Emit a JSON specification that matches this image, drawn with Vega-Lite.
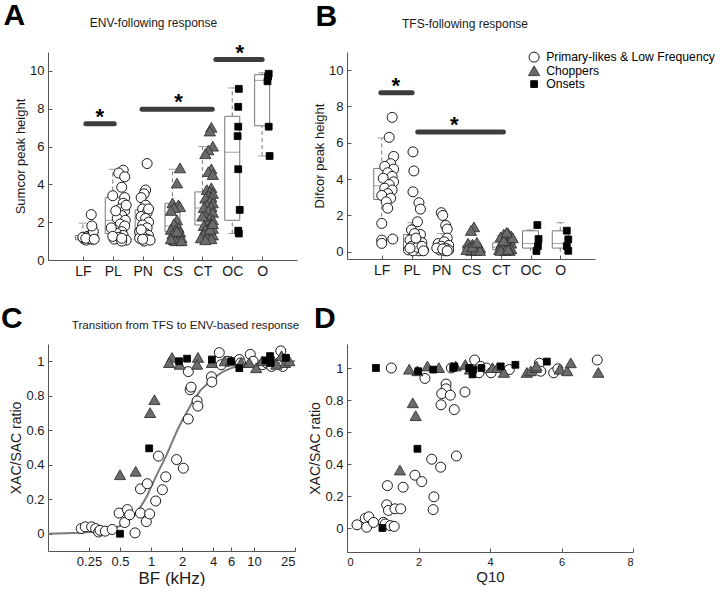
{
 "$schema": "https://vega.github.io/schema/vega-lite/v6.json",
 "padding": {"left": 0, "top": 0, "right": 0, "bottom": 0},
 "background": "white",
 "config": {
  "view": {"stroke": null},
  "font": "Liberation Sans",
  "axis": {"domainColor": "#555", "tickColor": "#555", "labelColor": "#1a1a1a", "titleColor": "#1a1a1a", "grid": false, "tickSize": -4, "labelFontSize": 13, "titleFontSize": 13, "titleFontWeight": "normal", "labelPadding": 8, "titlePadding": 2, "domainWidth": 1},
  "title": {"fontWeight": "normal", "fontSize": 12, "color": "#1a1a1a"},
  "point": {"size": 100}
 },
 "datasets": {
  "envPts": [
   {"x":1.05,"y":1.1,"t":"P"},{"x":1.12,"y":1.05,"t":"P"},{"x":1.2,"y":1.15,"t":"P"},{"x":1.3,"y":1.1,"t":"P"},{"x":1.35,"y":1.2,"t":"P"},{"x":1.25,"y":1.3,"t":"P"},{"x":1.15,"y":1.25,"t":"P"},{"x":1.0,"y":1.2,"t":"P"},{"x":1.3,"y":1.35,"t":"P"},{"x":1.35,"y":1.5,"t":"P"},{"x":1.3,"y":1.8,"t":"P"},{"x":1.28,"y":2.4,"t":"P"},{"x":1.1,"y":1.15,"t":"P"},{"x":1.38,"y":1.1,"t":"P"},
   {"x":2.35,"y":4.75,"t":"P"},{"x":2.2,"y":4.6,"t":"P"},{"x":2.4,"y":4.4,"t":"P"},{"x":2.3,"y":3.85,"t":"P"},{"x":2.0,"y":3.4,"t":"P"},{"x":2.4,"y":3.3,"t":"P"},{"x":2.35,"y":3.0,"t":"P"},{"x":2.25,"y":2.7,"t":"P"},{"x":2.4,"y":2.6,"t":"P"},{"x":2.3,"y":2.35,"t":"P"},{"x":2.15,"y":2.2,"t":"P"},{"x":2.42,"y":2.1,"t":"P"},{"x":2.25,"y":1.9,"t":"P"},{"x":2.4,"y":1.8,"t":"P"},{"x":2.05,"y":1.6,"t":"P"},{"x":2.3,"y":1.5,"t":"P"},{"x":2.15,"y":1.4,"t":"P"},{"x":2.35,"y":1.3,"t":"P"},{"x":2.2,"y":1.2,"t":"P"},{"x":2.05,"y":1.1,"t":"P"},{"x":2.45,"y":1.05,"t":"P"},{"x":2.3,"y":1.0,"t":"P"},{"x":1.95,"y":1.7,"t":"P"},{"x":2.1,"y":2.6,"t":"P"},{"x":2.45,"y":2.9,"t":"P"},{"x":2.0,"y":1.25,"t":"P"},{"x":2.3,"y":1.15,"t":"P"},
   {"x":3.15,"y":5.1,"t":"P"},{"x":3.1,"y":3.7,"t":"P"},{"x":3.05,"y":3.5,"t":"P"},{"x":2.95,"y":3.3,"t":"P"},{"x":3.1,"y":2.9,"t":"P"},{"x":3.0,"y":2.7,"t":"P"},{"x":3.15,"y":2.5,"t":"P"},{"x":2.95,"y":2.3,"t":"P"},{"x":3.1,"y":2.2,"t":"P"},{"x":3.2,"y":2.0,"t":"P"},{"x":3.0,"y":1.85,"t":"P"},{"x":3.15,"y":1.7,"t":"P"},{"x":2.9,"y":1.5,"t":"P"},{"x":3.1,"y":1.4,"t":"P"},{"x":3.2,"y":1.3,"t":"P"},{"x":3.0,"y":1.25,"t":"P"},{"x":2.9,"y":1.15,"t":"P"},{"x":3.15,"y":1.1,"t":"P"},{"x":3.05,"y":1.0,"t":"P"},{"x":3.25,"y":1.05,"t":"P"},{"x":2.95,"y":1.6,"t":"P"},{"x":3.2,"y":2.7,"t":"P"},{"x":3.0,"y":1.1,"t":"P"},
   {"x":4.25,"y":4.85,"t":"C"},{"x":4.15,"y":4.05,"t":"C"},{"x":4.0,"y":3.0,"t":"C"},{"x":4.2,"y":2.9,"t":"C"},{"x":4.25,"y":2.8,"t":"C"},{"x":4.05,"y":2.75,"t":"C"},{"x":3.95,"y":2.6,"t":"C"},{"x":4.15,"y":2.1,"t":"C"},{"x":4.05,"y":1.9,"t":"C"},{"x":4.2,"y":1.7,"t":"C"},{"x":3.95,"y":1.6,"t":"C"},{"x":4.1,"y":1.55,"t":"C"},{"x":4.25,"y":1.45,"t":"C"},{"x":4.0,"y":1.35,"t":"C"},{"x":4.15,"y":1.25,"t":"C"},{"x":4.3,"y":1.15,"t":"C"},{"x":4.05,"y":1.05,"t":"C"},{"x":4.2,"y":1.0,"t":"C"},{"x":4.1,"y":1.0,"t":"C"},{"x":3.95,"y":1.1,"t":"C"},{"x":4.3,"y":1.0,"t":"C"},{"x":4.15,"y":1.5,"t":"C"},
   {"x":5.3,"y":7.0,"t":"C"},{"x":5.25,"y":6.8,"t":"C"},{"x":5.35,"y":6.0,"t":"C"},{"x":5.2,"y":5.8,"t":"C"},{"x":5.1,"y":5.6,"t":"C"},{"x":5.3,"y":4.8,"t":"C"},{"x":5.2,"y":4.65,"t":"C"},{"x":5.35,"y":4.5,"t":"C"},{"x":5.3,"y":3.8,"t":"C"},{"x":5.15,"y":3.7,"t":"C"},{"x":5.25,"y":3.6,"t":"C"},{"x":5.35,"y":3.5,"t":"C"},{"x":5.2,"y":3.4,"t":"C"},{"x":5.3,"y":3.3,"t":"C"},{"x":5.1,"y":3.25,"t":"C"},{"x":5.25,"y":3.1,"t":"C"},{"x":5.35,"y":3.0,"t":"C"},{"x":5.15,"y":2.9,"t":"C"},{"x":5.3,"y":2.8,"t":"C"},{"x":5.05,"y":2.75,"t":"C"},{"x":5.2,"y":2.6,"t":"C"},{"x":5.35,"y":2.5,"t":"C"},{"x":5.1,"y":2.35,"t":"C"},{"x":5.25,"y":2.2,"t":"C"},{"x":5.35,"y":2.1,"t":"C"},{"x":5.15,"y":2.0,"t":"C"},{"x":5.3,"y":1.9,"t":"C"},{"x":5.05,"y":1.8,"t":"C"},{"x":5.25,"y":1.75,"t":"C"},{"x":5.35,"y":1.65,"t":"C"},{"x":5.1,"y":1.6,"t":"C"},{"x":5.2,"y":1.5,"t":"C"},{"x":5.3,"y":1.4,"t":"C"},{"x":5.05,"y":1.35,"t":"C"},{"x":5.35,"y":1.3,"t":"C"},{"x":5.15,"y":1.2,"t":"C"},{"x":4.95,"y":1.15,"t":"C"},{"x":5.3,"y":1.1,"t":"C"},{"x":5.1,"y":1.05,"t":"C"},{"x":5.25,"y":1.6,"t":"C"},{"x":5.0,"y":2.3,"t":"C"},{"x":5.35,"y":1.9,"t":"C"},
   {"x":6.22,"y":9.05,"t":"O"},{"x":6.2,"y":8.1,"t":"O"},{"x":6.2,"y":7.05,"t":"O"},{"x":6.18,"y":6.55,"t":"O"},{"x":6.2,"y":4.8,"t":"O"},{"x":6.25,"y":2.65,"t":"O"},{"x":6.2,"y":1.55,"t":"O"},{"x":6.22,"y":1.4,"t":"O"},
   {"x":7.22,"y":9.85,"t":"O"},{"x":7.2,"y":9.7,"t":"O"},{"x":7.18,"y":9.45,"t":"O"},{"x":7.22,"y":7.05,"t":"O"},{"x":7.25,"y":5.5,"t":"O"}
  ],
  "envBox": [
   {"x":1,"lo":1.0,"q1":1.07,"med":1.18,"q3":1.3,"hi":1.95},
   {"x":2,"lo":1.0,"q1":1.4,"med":2.1,"q3":3.3,"hi":4.8},
   {"x":3,"lo":1.0,"q1":1.25,"med":1.7,"q3":2.65,"hi":3.7},
   {"x":4,"lo":1.0,"q1":1.5,"med":1.8,"q3":3.0,"hi":4.8},
   {"x":5,"lo":1.1,"q1":1.85,"med":2.75,"q3":3.6,"hi":6.0},
   {"x":6,"lo":1.4,"q1":2.1,"med":5.7,"q3":7.6,"hi":9.1},
   {"x":7,"lo":5.5,"q1":7.1,"med":9.5,"q3":9.8,"hi":9.9}
  ],
  "envSig": [
   {"x":1.1,"xe":2.05,"xm":1.57,"y":7.2},
   {"x":2.98,"xe":5.33,"xm":4.2,"y":7.97},
   {"x":5.45,"xe":7.0,"xm":6.25,"y":10.6}
  ],
  "tfsPts": [
   {"x":1.35,"y":7.4,"t":"P"},{"x":1.25,"y":6.3,"t":"P"},{"x":1.4,"y":5.25,"t":"P"},{"x":1.3,"y":4.85,"t":"P"},{"x":1.1,"y":4.7,"t":"P"},{"x":1.4,"y":4.55,"t":"P"},{"x":1.2,"y":4.35,"t":"P"},{"x":1.35,"y":4.15,"t":"P"},{"x":1.05,"y":4.05,"t":"P"},{"x":1.4,"y":3.85,"t":"P"},{"x":1.25,"y":3.7,"t":"P"},{"x":1.1,"y":3.5,"t":"P"},{"x":1.35,"y":3.4,"t":"P"},{"x":1.2,"y":3.2,"t":"P"},{"x":1.0,"y":3.1,"t":"P"},{"x":1.3,"y":2.95,"t":"P"},{"x":1.15,"y":2.75,"t":"P"},{"x":1.2,"y":2.4,"t":"P"},{"x":1.0,"y":1.56,"t":"P"},{"x":1.37,"y":0.7,"t":"P"},{"x":1.0,"y":0.64,"t":"P"},{"x":1.0,"y":0.46,"t":"P"},
   {"x":2.05,"y":5.5,"t":"P"},{"x":2.08,"y":4.45,"t":"P"},{"x":2.05,"y":3.3,"t":"P"},{"x":2.25,"y":2.7,"t":"P"},{"x":2.3,"y":2.35,"t":"P"},{"x":2.2,"y":1.65,"t":"P"},{"x":2.0,"y":1.2,"t":"P"},{"x":2.3,"y":0.95,"t":"P"},{"x":2.1,"y":1.0,"t":"P"},{"x":1.95,"y":0.65,"t":"P"},{"x":2.2,"y":0.6,"t":"P"},{"x":2.35,"y":0.5,"t":"P"},{"x":2.15,"y":0.4,"t":"P"},{"x":2.0,"y":0.3,"t":"P"},{"x":2.3,"y":0.2,"t":"P"},{"x":2.1,"y":0.15,"t":"P"},{"x":1.9,"y":0.1,"t":"P"},{"x":2.25,"y":0.05,"t":"P"},{"x":2.4,"y":0.1,"t":"P"},{"x":2.05,"y":0.05,"t":"P"},{"x":2.2,"y":0.25,"t":"P"},{"x":2.35,"y":0.3,"t":"P"},{"x":1.95,"y":0.2,"t":"P"},{"x":2.15,"y":0.75,"t":"P"},{"x":2.4,"y":0.05,"t":"P"},
   {"x":3.0,"y":2.15,"t":"P"},{"x":3.05,"y":2.0,"t":"P"},{"x":3.15,"y":1.45,"t":"P"},{"x":3.2,"y":1.25,"t":"P"},{"x":3.2,"y":0.75,"t":"P"},{"x":2.9,"y":0.45,"t":"P"},{"x":3.1,"y":0.55,"t":"P"},{"x":3.25,"y":0.35,"t":"P"},{"x":3.0,"y":0.3,"t":"P"},{"x":3.15,"y":0.2,"t":"P"},{"x":2.95,"y":0.1,"t":"P"},{"x":3.1,"y":0.05,"t":"P"},{"x":3.25,"y":0.1,"t":"P"},{"x":2.85,"y":0.2,"t":"P"},{"x":3.05,"y":0.15,"t":"P"},{"x":3.2,"y":0.05,"t":"P"},
   {"x":4.1,"y":1.35,"t":"C"},{"x":4.0,"y":1.15,"t":"C"},{"x":3.9,"y":0.45,"t":"C"},{"x":4.05,"y":0.4,"t":"C"},{"x":4.2,"y":0.35,"t":"C"},{"x":4.3,"y":0.2,"t":"C"},{"x":3.95,"y":0.2,"t":"C"},{"x":4.1,"y":0.15,"t":"C"},{"x":4.25,"y":0.1,"t":"C"},{"x":4.0,"y":0.05,"t":"C"},{"x":4.15,"y":0.05,"t":"C"},{"x":4.3,"y":0.05,"t":"C"},{"x":3.85,"y":0.1,"t":"C"},{"x":4.05,"y":0.25,"t":"C"},{"x":4.2,"y":0.5,"t":"C"},
   {"x":5.1,"y":0.95,"t":"C"},{"x":5.25,"y":1.0,"t":"C"},{"x":5.35,"y":0.85,"t":"C"},{"x":5.0,"y":0.8,"t":"C"},{"x":5.2,"y":0.7,"t":"C"},{"x":5.3,"y":0.65,"t":"C"},{"x":5.15,"y":0.55,"t":"C"},{"x":5.05,"y":0.5,"t":"C"},{"x":5.35,"y":0.45,"t":"C"},{"x":5.25,"y":0.4,"t":"C"},{"x":5.0,"y":0.35,"t":"C"},{"x":5.1,"y":0.3,"t":"C"},{"x":5.3,"y":0.25,"t":"C"},{"x":5.2,"y":0.2,"t":"C"},{"x":5.05,"y":0.15,"t":"C"},{"x":5.35,"y":0.15,"t":"C"},{"x":4.95,"y":0.1,"t":"C"},{"x":5.15,"y":0.05,"t":"C"},{"x":5.3,"y":0.05,"t":"C"},{"x":5.0,"y":0.05,"t":"C"},{"x":5.25,"y":0.1,"t":"C"},{"x":5.1,"y":0.6,"t":"C"},{"x":5.4,"y":0.75,"t":"C"},{"x":5.2,"y":1.05,"t":"C"},
   {"x":6.23,"y":1.47,"t":"O"},{"x":6.27,"y":0.7,"t":"O"},{"x":6.25,"y":0.31,"t":"O"},{"x":6.2,"y":0.04,"t":"O"},
   {"x":7.22,"y":1.16,"t":"O"},{"x":7.27,"y":0.68,"t":"O"},{"x":7.22,"y":0.31,"t":"O"},{"x":7.27,"y":0.05,"t":"O"}
  ],
  "tfsBox": [
   {"x":1,"lo":1.55,"q1":2.88,"med":3.63,"q3":4.59,"hi":6.27},
   {"x":2,"lo":0.0,"q1":0.1,"med":0.55,"q3":0.95,"hi":1.6},
   {"x":3,"lo":0.0,"q1":0.1,"med":0.25,"q3":0.55,"hi":1.0},
   {"x":4,"lo":0.0,"q1":0.05,"med":0.15,"q3":0.35,"hi":0.6},
   {"x":5,"lo":0.0,"q1":0.1,"med":0.25,"q3":0.5,"hi":0.9},
   {"x":6,"lo":0.05,"q1":0.2,"med":0.45,"q3":1.15,"hi":1.2},
   {"x":7,"lo":0.0,"q1":0.2,"med":0.45,"q3":1.15,"hi":1.6}
  ],
  "tfsSig": [
   {"x":0.97,"xe":2.02,"xm":1.47,"y":8.75},
   {"x":2.21,"xe":5.09,"xm":3.44,"y":6.6}
  ],
  "curve": [
   {"x":0.1,"y":0.0},{"x":0.15,"y":0.003},{"x":0.2,"y":0.006},{"x":0.25,"y":0.01},{"x":0.3,"y":0.015},{"x":0.35,"y":0.02},{"x":0.4,"y":0.027},{"x":0.5,"y":0.045},{"x":0.6,"y":0.075},{"x":0.7,"y":0.11},{"x":0.8,"y":0.16},{"x":0.9,"y":0.21},{"x":1.0,"y":0.27},{"x":1.2,"y":0.37},{"x":1.4,"y":0.45},{"x":1.6,"y":0.53},{"x":1.8,"y":0.6},{"x":2.0,"y":0.655},{"x":2.5,"y":0.76},{"x":3.0,"y":0.83},{"x":4.0,"y":0.9},{"x":5.0,"y":0.94},{"x":6.0,"y":0.96},{"x":8.0,"y":0.98},{"x":10,"y":0.99},{"x":15,"y":0.995},{"x":25,"y":1.0}
  ],
  "bfPts": [
   {"x":0.21,"y":0.03,"t":"P"},{"x":0.23,"y":0.04,"t":"P"},{"x":0.265,"y":0.04,"t":"P"},{"x":0.29,"y":0.03,"t":"P"},{"x":0.31,"y":0.01,"t":"P"},{"x":0.32,"y":0.02,"t":"P"},{"x":0.36,"y":0.015,"t":"P"},{"x":0.42,"y":0.025,"t":"P"},{"x":0.49,"y":0.12,"t":"P"},{"x":0.555,"y":0.065,"t":"P"},{"x":0.59,"y":0.14,"t":"P"},{"x":0.62,"y":0.11,"t":"P"},{"x":0.7,"y":0.005,"t":"P"},{"x":0.79,"y":0.26,"t":"P"},{"x":0.79,"y":0.12,"t":"P"},{"x":0.92,"y":0.29,"t":"P"},{"x":0.9,"y":0.07,"t":"P"},{"x":0.97,"y":0.115,"t":"P"},{"x":1.11,"y":0.19,"t":"P"},{"x":1.18,"y":0.45,"t":"P"},{"x":1.29,"y":0.255,"t":"P"},{"x":1.39,"y":0.33,"t":"P"},{"x":1.77,"y":0.43,"t":"P"},{"x":2.06,"y":0.38,"t":"P"},{"x":2.3,"y":0.665,"t":"P"},{"x":2.4,"y":0.835,"t":"P"},{"x":2.45,"y":0.85,"t":"P"},{"x":2.3,"y":0.94,"t":"P"},{"x":2.8,"y":0.77,"t":"P"},{"x":2.85,"y":0.74,"t":"P"},{"x":3.86,"y":0.91,"t":"P"},{"x":3.9,"y":0.88,"t":"P"},{"x":4.6,"y":1.05,"t":"P"},{"x":4.8,"y":0.98,"t":"P"},{"x":5.5,"y":1.0,"t":"P"},{"x":7.2,"y":1.01,"t":"P"},{"x":7.4,"y":0.99,"t":"P"},{"x":9.2,"y":1.04,"t":"P"},{"x":9.8,"y":1.0,"t":"P"},{"x":12.1,"y":0.98,"t":"P"},{"x":13.3,"y":0.99,"t":"P"},{"x":14.8,"y":0.97,"t":"P"},{"x":18.2,"y":1.06,"t":"P"},{"x":17.6,"y":0.99,"t":"P"},{"x":19,"y":0.97,"t":"P"},
   {"x":0.5,"y":0.34,"t":"C"},{"x":0.71,"y":0.36,"t":"C"},{"x":0.98,"y":0.7,"t":"C"},{"x":1.08,"y":0.775,"t":"C"},{"x":1.6,"y":1.02,"t":"C"},{"x":1.5,"y":0.99,"t":"C"},{"x":1.9,"y":0.98,"t":"C"},{"x":2.86,"y":1.02,"t":"C"},{"x":2.8,"y":0.98,"t":"C"},{"x":3.9,"y":0.99,"t":"C"},{"x":5.2,"y":1.0,"t":"C"},{"x":6.0,"y":1.0,"t":"C"},{"x":7.5,"y":0.99,"t":"C"},{"x":9.0,"y":0.99,"t":"C"},{"x":10.5,"y":0.96,"t":"C"},{"x":12.0,"y":1.0,"t":"C"},{"x":15.5,"y":1.0,"t":"C"},{"x":18.5,"y":1.03,"t":"C"},{"x":20,"y":0.99,"t":"C"},{"x":22,"y":1.0,"t":"C"},{"x":16.5,"y":0.98,"t":"C"},
   {"x":0.5,"y":0.0,"t":"O"},{"x":0.96,"y":0.495,"t":"O"},{"x":1.87,"y":1.0,"t":"O"},{"x":2.24,"y":1.015,"t":"O"},{"x":3.9,"y":1.01,"t":"O"},{"x":6.0,"y":1.0,"t":"O"},{"x":7.2,"y":0.96,"t":"O"},{"x":12.9,"y":1.005,"t":"O"},{"x":14.3,"y":1.03,"t":"O"},{"x":14.5,"y":0.99,"t":"O"},{"x":20.4,"y":1.02,"t":"O"}
  ],
  "q10Pts": [
   {"x":0.28,"y":0.02,"t":"P"},{"x":0.51,"y":0.06,"t":"P"},{"x":0.61,"y":0.07,"t":"P"},{"x":0.55,"y":0.005,"t":"P"},{"x":0.74,"y":0.035,"t":"P"},{"x":1.02,"y":0.035,"t":"P"},{"x":1.07,"y":0.025,"t":"P"},{"x":1.21,"y":0.015,"t":"P"},{"x":1.32,"y":0.01,"t":"P"},{"x":1.13,"y":0.265,"t":"P"},{"x":1.11,"y":0.145,"t":"P"},{"x":1.16,"y":0.11,"t":"P"},{"x":1.34,"y":0.12,"t":"P"},{"x":1.5,"y":0.12,"t":"P"},{"x":1.57,"y":0.255,"t":"P"},{"x":1.24,"y":1.0,"t":"P"},{"x":1.9,"y":0.33,"t":"P"},{"x":2.09,"y":0.29,"t":"P"},{"x":2.18,"y":0.935,"t":"P"},{"x":2.37,"y":0.43,"t":"P"},{"x":2.43,"y":0.195,"t":"P"},{"x":2.41,"y":0.115,"t":"P"},{"x":2.62,"y":0.38,"t":"P"},{"x":2.77,"y":0.9,"t":"P"},{"x":2.77,"y":0.87,"t":"P"},{"x":2.65,"y":0.84,"t":"P"},{"x":2.63,"y":0.77,"t":"P"},{"x":2.89,"y":0.83,"t":"P"},{"x":3.0,"y":0.74,"t":"P"},{"x":3.3,"y":0.85,"t":"P"},{"x":3.06,"y":0.45,"t":"P"},{"x":2.92,"y":1.0,"t":"P"},{"x":3.57,"y":1.05,"t":"P"},{"x":3.74,"y":1.01,"t":"P"},{"x":3.69,"y":0.97,"t":"P"},{"x":3.9,"y":1.0,"t":"P"},{"x":4.03,"y":0.97,"t":"P"},{"x":4.54,"y":0.99,"t":"P"},{"x":5.38,"y":1.03,"t":"P"},{"x":5.42,"y":0.98,"t":"P"},{"x":5.78,"y":0.97,"t":"P"},{"x":5.9,"y":0.995,"t":"P"},{"x":7.0,"y":1.05,"t":"P"},
   {"x":1.74,"y":0.99,"t":"C"},{"x":1.97,"y":0.98,"t":"C"},{"x":2.25,"y":1.01,"t":"C"},{"x":2.57,"y":1.0,"t":"C"},{"x":3.04,"y":1.01,"t":"C"},{"x":3.31,"y":1.02,"t":"C"},{"x":3.44,"y":0.99,"t":"C"},{"x":4.07,"y":1.0,"t":"C"},{"x":4.21,"y":1.0,"t":"C"},{"x":4.39,"y":0.97,"t":"C"},{"x":5.03,"y":0.97,"t":"C"},{"x":5.14,"y":0.98,"t":"C"},{"x":5.28,"y":1.0,"t":"C"},{"x":5.3,"y":1.01,"t":"C"},{"x":5.95,"y":0.99,"t":"C"},{"x":6.16,"y":0.98,"t":"C"},{"x":6.26,"y":1.03,"t":"C"},{"x":7.03,"y":0.97,"t":"C"},{"x":1.84,"y":0.78,"t":"C"},{"x":1.92,"y":0.7,"t":"C"},{"x":1.48,"y":0.36,"t":"C"},
   {"x":0.81,"y":1.0,"t":"O"},{"x":0.99,"y":0.0,"t":"O"},{"x":1.97,"y":0.495,"t":"O"},{"x":1.99,"y":0.98,"t":"O"},{"x":2.41,"y":0.99,"t":"O"},{"x":2.97,"y":1.0,"t":"O"},{"x":3.0,"y":1.01,"t":"O"},{"x":3.42,"y":1.0,"t":"O"},{"x":3.53,"y":0.99,"t":"O"},{"x":3.51,"y":0.96,"t":"O"},{"x":3.76,"y":1.0,"t":"O"},{"x":4.3,"y":1.01,"t":"O"},{"x":4.71,"y":1.02,"t":"O"},{"x":5.59,"y":1.04,"t":"O"}
  ]
 },
 "vconcat": [
  {"spacing": 16, "hconcat": [
   {"title": {"text": "A", "fontSize": 30, "fontWeight": "bold", "anchor": "start", "offset": -14, "dx": -11, "color": "black"},
    "hconcat": [{
     "width": 249, "height": 208,
     "title": {"text": "ENV-following response", "anchor": "middle", "dx": -19, "offset": 12},
     "layer": [
      {"data": {"name": "envBox"}, "mark": {"type": "bar", "orient": "vertical", "size": 15, "fillOpacity": 0, "stroke": "#777", "strokeWidth": 1},
       "encoding": {"x": {"field": "x", "type": "quantitative", "scale": {"domain": [0, 8], "nice": false, "zero": false},
         "axis": {"values": [1,2,3,4,5,6,7], "labelExpr": "['','LF','PL','PN','CS','CT','OC','O'][datum.value]", "title": null, "labelFontSize": 14}},
        "y": {"field": "q1", "type": "quantitative", "scale": {"domain": [0, 11], "nice": false, "zero": false},
         "axis": {"values": [0,2,4,6,8,10], "title": "Sumcor peak height"}},
        "y2": {"field": "q3"}}},
      {"data": {"name": "envBox"}, "mark": {"type": "rule", "color": "#777", "strokeDash": [4, 3]},
       "encoding": {"x": {"field": "x", "type": "quantitative"}, "y": {"field": "q3", "type": "quantitative"}, "y2": {"field": "hi"}}},
      {"data": {"name": "envBox"}, "mark": {"type": "rule", "color": "#777", "strokeDash": [4, 3]},
       "encoding": {"x": {"field": "x", "type": "quantitative"}, "y": {"field": "lo", "type": "quantitative"}, "y2": {"field": "q1"}}},
      {"data": {"name": "envBox"}, "mark": {"type": "tick", "orient": "horizontal", "size": 8, "thickness": 1, "color": "#777"},
       "encoding": {"x": {"field": "x", "type": "quantitative"}, "y": {"field": "hi", "type": "quantitative"}}},
      {"data": {"name": "envBox"}, "mark": {"type": "tick", "orient": "horizontal", "size": 8, "thickness": 1, "color": "#777"},
       "encoding": {"x": {"field": "x", "type": "quantitative"}, "y": {"field": "lo", "type": "quantitative"}}},
      {"data": {"name": "envBox"}, "mark": {"type": "tick", "orient": "horizontal", "size": 15, "thickness": 1, "color": "#777"},
       "encoding": {"x": {"field": "x", "type": "quantitative"}, "y": {"field": "med", "type": "quantitative"}}},
      {"data": {"name": "envPts"}, "mark": {"type": "point", "filled": true, "opacity": 1, "strokeWidth": 0.9},
       "encoding": {"x": {"field": "x", "type": "quantitative"}, "y": {"field": "y", "type": "quantitative"},
        "shape": {"field": "t", "type": "nominal", "scale": {"domain": ["P","C","O"], "range": ["circle","M0,-1.05L1.12,0.9L-1.12,0.9Z","M-0.68,-0.68H0.68V0.68H-0.68Z"]}, "legend": {"orient": "none", "legendX": 480, "legendY": -1, "title": null, "labelFontSize": 12.2, "labelLimit": 300, "padding": 0, "rowPadding": 0, "labelOffset": 6, "symbolStrokeWidth": 0.9, "labelExpr": "datum.value == 'P' ? 'Primary-likes & Low Frequency' : datum.value == 'C' ? 'Choppers' : 'Onsets'"}},
        "fill": {"field": "t", "type": "nominal", "scale": {"domain": ["P","C","O"], "range": ["white","#6b6b6b","black"]}, "legend": {"orient": "none", "legendX": 480, "legendY": -1, "title": null, "labelFontSize": 12.2, "labelLimit": 300, "padding": 0, "rowPadding": 0, "labelOffset": 6, "symbolStrokeWidth": 0.9, "labelExpr": "datum.value == 'P' ? 'Primary-likes & Low Frequency' : datum.value == 'C' ? 'Choppers' : 'Onsets'"}},
        "stroke": {"field": "t", "type": "nominal", "scale": {"domain": ["P","C","O"], "range": ["black","#333333","black"]}, "legend": {"orient": "none", "legendX": 480, "legendY": -1, "title": null, "labelFontSize": 12.2, "labelLimit": 300, "padding": 0, "rowPadding": 0, "labelOffset": 6, "symbolStrokeWidth": 0.9, "labelExpr": "datum.value == 'P' ? 'Primary-likes & Low Frequency' : datum.value == 'C' ? 'Choppers' : 'Onsets'"}}}},
      {"data": {"name": "envSig"}, "mark": {"type": "rule", "color": "#3d3d3d", "strokeWidth": 5, "strokeCap": "round"},
       "encoding": {"x": {"field": "x", "type": "quantitative"}, "x2": {"field": "xe"}, "y": {"field": "y", "type": "quantitative"}}},
      {"data": {"name": "envSig"}, "mark": {"type": "text", "text": "*", "fontSize": 22, "fontWeight": "bold", "baseline": "alphabetic", "color": "black"},
       "encoding": {"x": {"field": "xm", "type": "quantitative"}, "y": {"field": "y", "type": "quantitative"}}}
     ]}]},
   {"title": {"text": "B", "fontSize": 30, "fontWeight": "bold", "anchor": "start", "offset": -14, "dx": 2, "color": "black"},
    "hconcat": [{
     "width": 248, "height": 207,
     "title": {"text": "TFS-following response", "anchor": "middle", "dx": -6, "offset": 21},
     "layer": [
      {"data": {"name": "tfsBox"}, "mark": {"type": "bar", "orient": "vertical", "size": 16, "fillOpacity": 0, "stroke": "#777", "strokeWidth": 1},
       "encoding": {"x": {"field": "x", "type": "quantitative", "scale": {"domain": [0, 8], "nice": false, "zero": false},
         "axis": {"values": [1,2,3,4,5,6,7], "labelExpr": "['','LF','PL','PN','CS','CT','OC','O'][datum.value]", "title": null, "labelFontSize": 14}},
        "y": {"field": "q1", "type": "quantitative", "scale": {"domain": [-0.4, 11], "nice": false, "zero": false},
         "axis": {"values": [0,2,4,6,8,10], "title": "Difcor peak height"}},
        "y2": {"field": "q3"}}},
      {"data": {"name": "tfsBox"}, "mark": {"type": "rule", "color": "#777", "strokeDash": [4, 3]},
       "encoding": {"x": {"field": "x", "type": "quantitative"}, "y": {"field": "q3", "type": "quantitative"}, "y2": {"field": "hi"}}},
      {"data": {"name": "tfsBox"}, "mark": {"type": "rule", "color": "#777", "strokeDash": [4, 3]},
       "encoding": {"x": {"field": "x", "type": "quantitative"}, "y": {"field": "lo", "type": "quantitative"}, "y2": {"field": "q1"}}},
      {"data": {"name": "tfsBox"}, "mark": {"type": "tick", "orient": "horizontal", "size": 8, "thickness": 1, "color": "#777"},
       "encoding": {"x": {"field": "x", "type": "quantitative"}, "y": {"field": "hi", "type": "quantitative"}}},
      {"data": {"name": "tfsBox"}, "mark": {"type": "tick", "orient": "horizontal", "size": 16, "thickness": 1, "color": "#777"},
       "encoding": {"x": {"field": "x", "type": "quantitative"}, "y": {"field": "med", "type": "quantitative"}}},
      {"data": {"name": "tfsPts"}, "mark": {"type": "point", "filled": true, "opacity": 1, "strokeWidth": 0.9},
       "encoding": {"x": {"field": "x", "type": "quantitative"}, "y": {"field": "y", "type": "quantitative"},
        "shape": {"field": "t", "type": "nominal"}, "fill": {"field": "t", "type": "nominal"}, "stroke": {"field": "t", "type": "nominal"}}},
      {"data": {"name": "tfsSig"}, "mark": {"type": "rule", "color": "#3d3d3d", "strokeWidth": 5, "strokeCap": "round"},
       "encoding": {"x": {"field": "x", "type": "quantitative"}, "x2": {"field": "xe"}, "y": {"field": "y", "type": "quantitative"}}},
      {"data": {"name": "tfsSig"}, "mark": {"type": "text", "text": "*", "fontSize": 22, "fontWeight": "bold", "baseline": "alphabetic", "color": "black"},
       "encoding": {"x": {"field": "xm", "type": "quantitative"}, "y": {"field": "y", "type": "quantitative"}}}
     ]}]}
  ]},
  {"spacing": 8, "hconcat": [
   {"title": {"text": "C", "fontSize": 30, "fontWeight": "bold", "anchor": "start", "offset": -14, "dx": -9, "color": "black"},
    "hconcat": [{
     "width": 247, "height": 207,
     "title": {"text": "Transition from TFS to ENV-based response", "anchor": "middle", "dx": 14, "offset": 12, "fontSize": 11.6},
     "layer": [
      {"data": {"name": "curve"}, "mark": {"type": "line", "color": "#7a7a7a", "strokeWidth": 2},
       "encoding": {"x": {"field": "x", "type": "quantitative", "scale": {"type": "log", "domain": [0.1, 25], "nice": false},
         "axis": {"values": [0.25,0.5,1,2,4,6,10,25], "format": "~g", "title": "BF (kHz)", "titleFontSize": 17}},
        "y": {"field": "y", "type": "quantitative", "scale": {"domain": [-0.1, 1.1], "nice": false, "zero": false},
         "axis": {"values": [0,0.2,0.4,0.6,0.8,1], "format": "~g", "title": "XAC/SAC ratio", "titleFontSize": 14}}}},
      {"data": {"name": "bfPts"}, "mark": {"type": "point", "filled": true, "opacity": 1, "strokeWidth": 0.9},
       "encoding": {"x": {"field": "x", "type": "quantitative"}, "y": {"field": "y", "type": "quantitative"},
        "shape": {"field": "t", "type": "nominal"}, "fill": {"field": "t", "type": "nominal"}, "stroke": {"field": "t", "type": "nominal"}}}
     ]}]},
   {"title": {"text": "D", "fontSize": 30, "fontWeight": "bold", "anchor": "start", "offset": -14, "dx": 5, "color": "black"},
    "hconcat": [{
     "width": 286, "height": 208,
     "title": {"text": " ", "anchor": "middle", "offset": 12, "fontSize": 11.6},
     "layer": [
      {"data": {"name": "q10Pts"}, "mark": {"type": "point", "filled": true, "opacity": 1, "strokeWidth": 0.9},
       "encoding": {"x": {"field": "x", "type": "quantitative", "scale": {"domain": [0, 8], "nice": false, "zero": false},
         "axis": {"values": [0,2,4,6,8], "title": "Q10", "titleFontSize": 15, "labelFontSize": 11}},
        "y": {"field": "y", "type": "quantitative", "scale": {"domain": [-0.15, 1.15], "nice": false, "zero": false},
         "axis": {"values": [0,0.2,0.4,0.6,0.8,1], "format": "~g", "title": "XAC/SAC ratio", "titleFontSize": 14}},
        "shape": {"field": "t", "type": "nominal"}, "fill": {"field": "t", "type": "nominal"}, "stroke": {"field": "t", "type": "nominal"}}}
     ]}]}
  ]}
 ],
 "spacing": 26
}
